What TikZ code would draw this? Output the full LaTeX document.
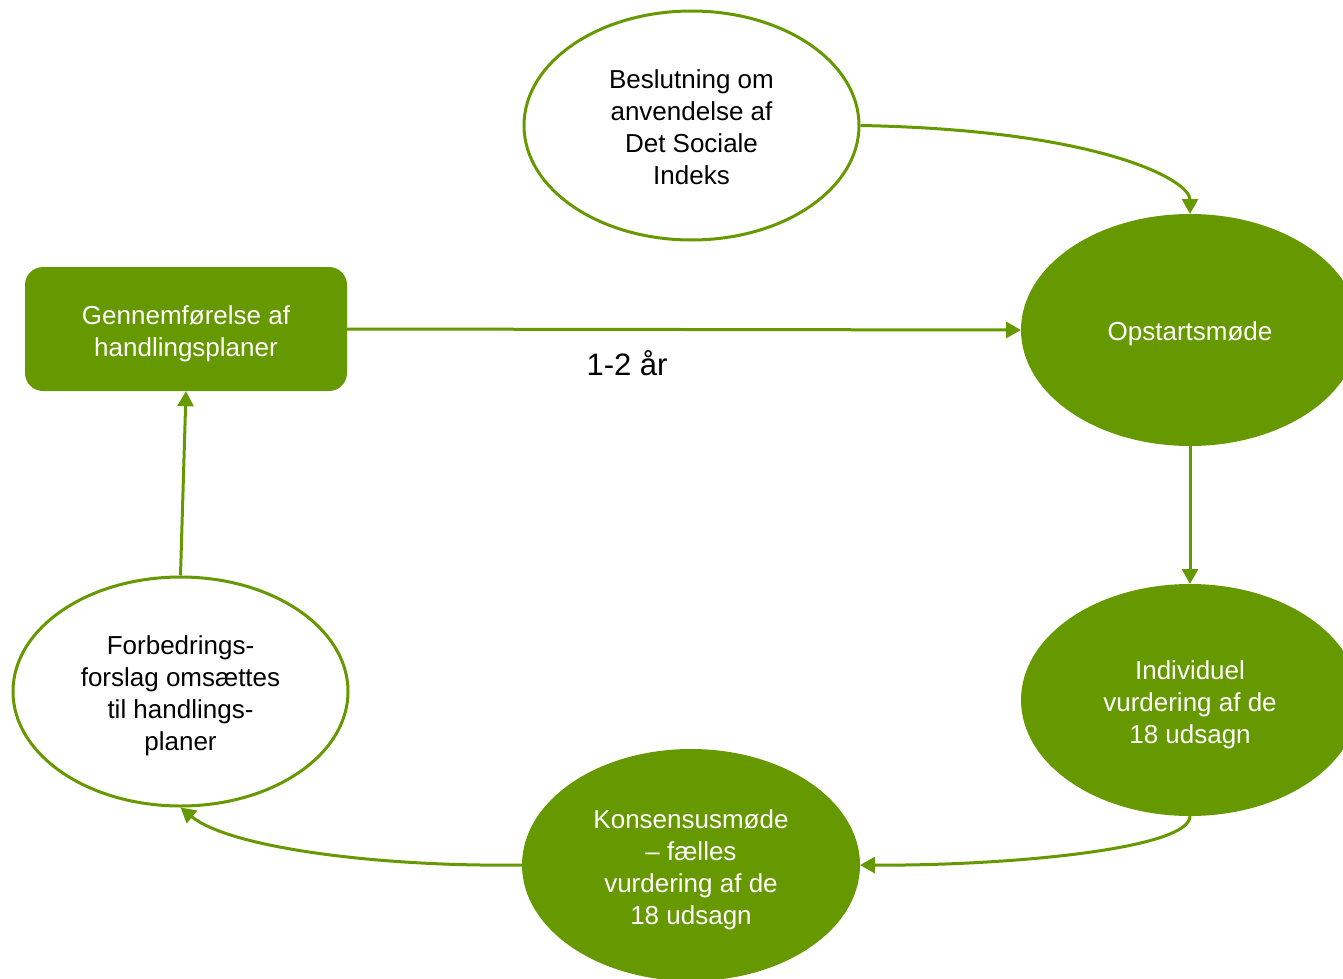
\documentclass[tikz,border=0pt]{standalone}
\usepackage{fontspec}
\setmainfont{Liberation Sans}
\usetikzlibrary{shapes.geometric,arrows.meta}
\definecolor{grn}{HTML}{669900}
\tikzset{
  ell/.style={ellipse, draw=grn, line width=3pt, inner sep=0pt,
    minimum width=335pt, minimum height=229pt},
  ellw/.style={ell, fill=white},
  ellg/.style={ell, fill=grn},
  box/.style={rectangle, rounded corners=18pt, fill=grn,
    minimum width=322pt, minimum height=124pt, inner sep=0pt},
  txt/.style={align=center, inner sep=0pt, font=\fontsize{26}{32}\selectfont},
  txtw/.style={txt, text=white},
  conn/.style={draw=grn, line width=3pt, -{Triangle[length=15pt,width=16pt]}},
}
\begin{document}
\begin{tikzpicture}[x=1pt,y=-1pt]
\useasboundingbox (0,0) rectangle (1343,979);
\node[ellw] (top) at (691.5,125.5) {};
\node[ellg] (op) at (1190,330) {};
\node[ellg] (ind) at (1190,700) {};
\node[ellg] (kon) at (691,865) {};
\node[ellw] (frb) at (180.5,691.5) {};
\node[box] (gen) at (186,329) {};
\node[txt] (topT) at ([yshift=-2pt]top.center) {Beslutning om\\anvendelse af\\Det Sociale\\Indeks};
\node[txtw] (opT) at ([yshift=-4pt]op.center) {Opstartsmøde};
\node[txtw] (indT) at ([yshift=-5pt]ind.center) {Individuel\\vurdering af de\\18 udsagn};
\node[txtw] (konT) at ([yshift=-5pt]kon.center) {Konsensusmøde\\– fælles\\vurdering af de\\18 udsagn};
\node[txt] (frbT) at ([yshift=-4pt]frb.center) {Forbedrings-\\forslag omsættes\\til handlings-\\planer};
\node[txtw] (genT) at ([yshift=-5pt]gen.center) {Gennemførelse af\\handlingsplaner};
\node[font=\fontsize{31}{36}\selectfont] (lbl) at (627,363) {1-2 år};
\draw[conn] (top.east) .. controls (1100,130) and (1190,180) .. (op.north);
\draw[conn] (gen.east) -- (op.west);
\draw[conn] (op.south) -- (ind.north);
\draw[conn] (ind.south) .. controls (1190,850) and (1000,866) .. (kon.east);
\draw[conn] (kon.west) .. controls (380,867) and (230,848) .. (frb.south);
\draw[conn] (frb.north) -- (gen.south);
\end{tikzpicture}
\end{document}
